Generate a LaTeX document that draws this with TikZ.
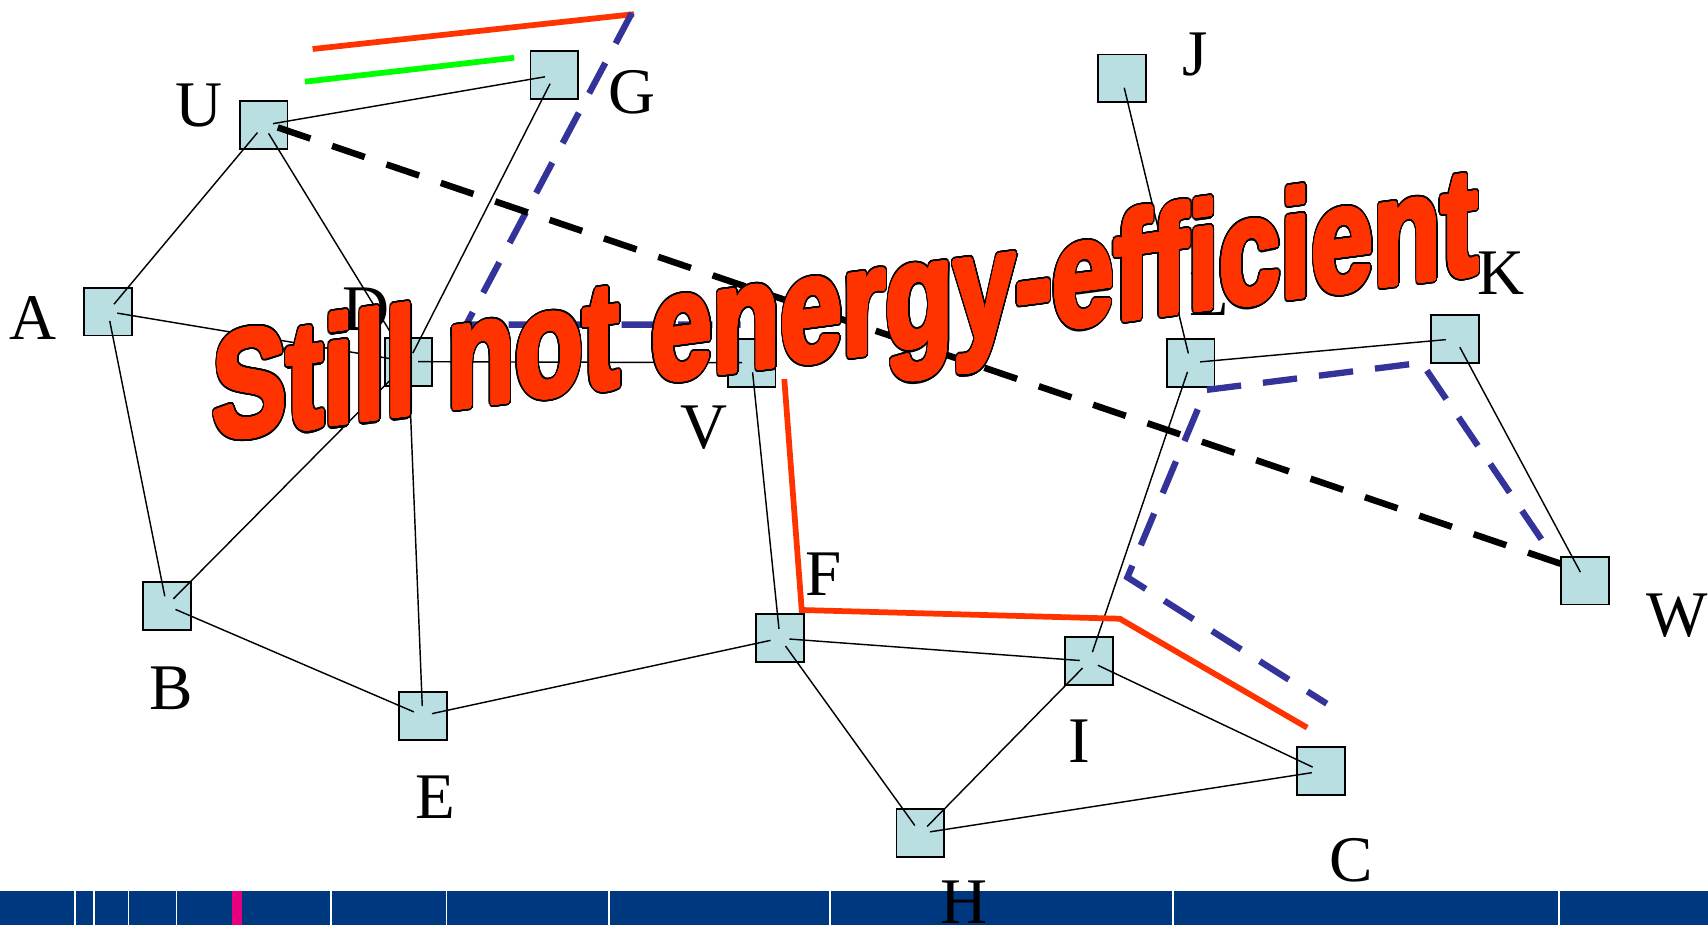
\documentclass[tikz,border=0pt]{standalone}
\usepackage{fontspec}
\setmainfont{Liberation Serif}
\newfontfamily\titlefont{Liberation Sans}
\usepackage{contour}
\contournumber{40}
\definecolor{boxcyan}{RGB}{186,223,226}
\definecolor{tred}{RGB}{255,51,0}
\definecolor{tgreen}{RGB}{0,255,0}
\definecolor{tblue}{RGB}{51,51,153}
\definecolor{barblue}{RGB}{0,56,128}
\definecolor{barpink}{RGB}{230,0,126}
\tikzset{
  box/.style={draw=black, line width=1pt, fill=boxcyan, minimum size=25pt, inner sep=0pt},
  lab/.style={font=\fontsize{34}{36}\selectfont, inner sep=0pt},
  edge/.style={draw=black, line width=0.75pt, shorten <=5pt, shorten >=5pt},
  blackdash/.style={draw=black, line width=3.4pt, dash pattern=on 18pt off 12pt},
  bluedash/.style={draw=tblue, line width=3.3pt, dash pattern=on 18pt off 11.5pt},
  redline/.style={draw=tred, line width=3pt},
  greenline/.style={draw=tgreen, line width=3pt},
  sep/.style={draw=white, line width=0.9pt},
  titlestyle/.style={transform shape, yslant=0.132, xscale=0.735, inner sep=0pt,
    font=\titlefont\bfseries\fontsize{79}{82}\selectfont}
}
\begin{document}
\begin{tikzpicture}[x=0.02cm, y=-0.02cm]
\useasboundingbox (0,0) rectangle (1568,849);
% bottom bar
\fill[barblue] (0,818) rectangle (1568,849);
\fill[barpink] (213,818) rectangle (222,849);
\foreach \xx in {69,86,118,162,304,410,559,762,1077,1431}
  \draw[sep] (\xx,818) -- (\xx,849);
% boxes
\node[box] (U) at (242,115) {};
\node[box] (G) at (509,69) {};
\node[box] (J) at (1030,72) {};
\node[box] (A) at (99,286) {};
\node[box] (D) at (375,332) {};
\node[box] (V) at (690,333) {};
\node[box] (L) at (1093,333) {};
\node[box] (K) at (1336,311) {};
\node[box] (W) at (1455,533) {};
\node[box] (B) at (153,556) {};
\node[box] (E) at (388,657) {};
\node[box] (F) at (716,586) {};
\node[box] (I) at (1000,607) {};
\node[box] (C) at (1213,708) {};
\node[box] (H) at (845,765) {};
% thin edges
\draw[edge] (U.center) -- (G.center);
\draw[edge] (U.center) -- (A.center);
\draw[edge] (U.center) -- (D.center);
\draw[edge] (G.center) -- (D.center);
\draw[edge] (A.center) -- (D.center);
\draw[edge] (A.center) -- (B.center);
\draw[edge] (B.center) -- (D.center);
\draw[edge] (D.center) -- (E.center);
\draw[edge] (D.center) -- (V.center);
\draw[edge] (B.center) -- (E.center);
\draw[edge] (E.center) -- (F.center);
\draw[edge] (V.center) -- (F.center);
\draw[edge] (F.center) -- (I.center);
\draw[edge] (F.center) -- (H.center);
\draw[edge] (I.center) -- (H.center);
\draw[edge] (I.center) -- (C.center);
\draw[edge] (H.center) -- (C.center);
\draw[edge] (J.center) -- (L.center);
\draw[edge] (L.center) -- (K.center);
\draw[edge] (L.center) -- (I.center);
\draw[edge] (K.center) -- (W.center);
% coloured paths
\coordinate (r1a) at (287,45);
\coordinate (r1b) at (582,13);
\coordinate (g1a) at (280,75);
\coordinate (g1b) at (472,53);
\draw[redline] (r1a) -- (r1b);
\draw[greenline] (g1a) -- (g1b);
\coordinate (b1a) at (580,12);
\coordinate (b1b) at (428,298);
\coordinate (b1c) at (680,298);
\draw[bluedash] (b1a) -- (b1b) -- (b1c);
\coordinate (b2a) at (1415,495);
\coordinate (b2b) at (1305,333);
\coordinate (b2c) at (1107,358);
\coordinate (b2d) at (1035,530);
\coordinate (b2e) at (1218,646);
\draw[bluedash] (b2a) -- (b2b) -- (b2c) -- (b2d) -- (b2e);
\draw[blackdash] ([shift={(13,2)}]U.center) -- ([shift={(-15,-13)}]W.center);
\coordinate (r2a) at (720,348);
\coordinate (r2b) at (736,560);
\coordinate (r2c) at (1028,568);
\coordinate (r2d) at (1200,668);
\draw[redline] (r2a) -- (r2b) -- (r2c) -- (r2d);
% labels
\node[lab] (lU) at (183,97) {U};
\node[lab] (lG) at (580,85) {G};
\node[lab] (lJ) at (1097,50) {J};
\node[lab] (lA) at (30,292) {A};
\node[lab] (lD) at (336,284) {D};
\node[lab] (lV) at (646,393) {V};
\node[lab] (lL) at (1110,270) {L};
\node[lab] (lK) at (1378,251) {K};
\node[lab] (lW) at (1540,565) {W};
\node[lab] (lF) at (756,527) {F};
\node[lab] (lB) at (157,632) {B};
\node[lab] (lE) at (400,732) {E};
\node[lab] (lI) at (991,680) {I};
\node[lab] (lC) at (1240,790) {C};
\node[lab] (lH) at (885,828) {H};
% title: black outline layer, then fattened red layer
\node[titlestyle, text=black, anchor=base west] (titleback) at (195,404)
  {\contourlength{2.5pt}\contour{black}{Still not energy-efficient}};
\node[titlestyle, text=tred, anchor=base west] (title) at (195,404)
  {\contourlength{1.35pt}\contour{tred}{Still not energy-efficient}};
\end{tikzpicture}
\end{document}
